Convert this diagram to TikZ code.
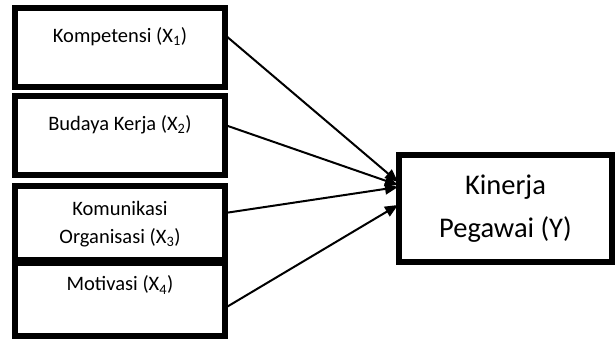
\documentclass[tikz,border=0pt]{standalone}
\usepackage{fontspec}
\setmainfont{Carlito}
\usetikzlibrary{arrows.meta}
\begin{document}
\begin{tikzpicture}[x=1pt,y=-1pt,
  box/.style={draw=black, line width=6pt, rectangle, inner sep=0pt, outer sep=0pt, fill=white},
  lbl/.style={font=\fontsize{20.5}{28}\selectfont, align=center, inner sep=0pt},
  big/.style={font=\fontsize{28.5}{43}\selectfont, align=center, inner sep=0pt},
  conn/.style={line width=2pt, -{Triangle[length=13pt,width=11pt]}}]
\useasboundingbox (0,0) rectangle (616,338);
% left boxes (line centres)
\node[box, minimum width=210pt, minimum height=79pt] (b1) at (120,47.5) {};
\node[box, minimum width=210pt, minimum height=79pt] (b2) at (120,135.5) {};
\node[box, minimum width=210pt, minimum height=74pt] (b3) at (120,223) {};
\node[box, minimum width=210pt, minimum height=73pt] (b4) at (120,299) {};
% right box
\node[box, minimum width=213pt, minimum height=107pt] (y) at (505.5,208.5) {};
% texts
\node[lbl] (t1) at (120,37) {Kompetensi (X\textsubscript{1})};
\node[lbl] (t2) at (120,125) {Budaya Kerja (X\textsubscript{2})};
\node[lbl] (t3) at (120,224) {Komunikasi\\Organisasi (X\textsubscript{3})};
\node[lbl] (t4) at (120,285) {Motivasi (X\textsubscript{4})};
\node[big] (ty) at (505.5,209) {Kinerja\\Pegawai (Y)};
% connectors
\draw[conn] ([yshift=12.5pt]b1.east) -- ([xshift=-1pt,yshift=26.5pt]y.west);
\draw[conn] ([yshift=10.5pt]b2.east) -- ([xshift=-1pt,yshift=23.5pt]y.west);
\draw[conn] ([yshift=10pt]b3.east) -- ([xshift=-1pt,yshift=21.5pt]y.west);
\draw[conn] ([yshift=-9pt]b4.east) -- ([xshift=-1pt,yshift=3.5pt]y.west);
\end{tikzpicture}
\end{document}
